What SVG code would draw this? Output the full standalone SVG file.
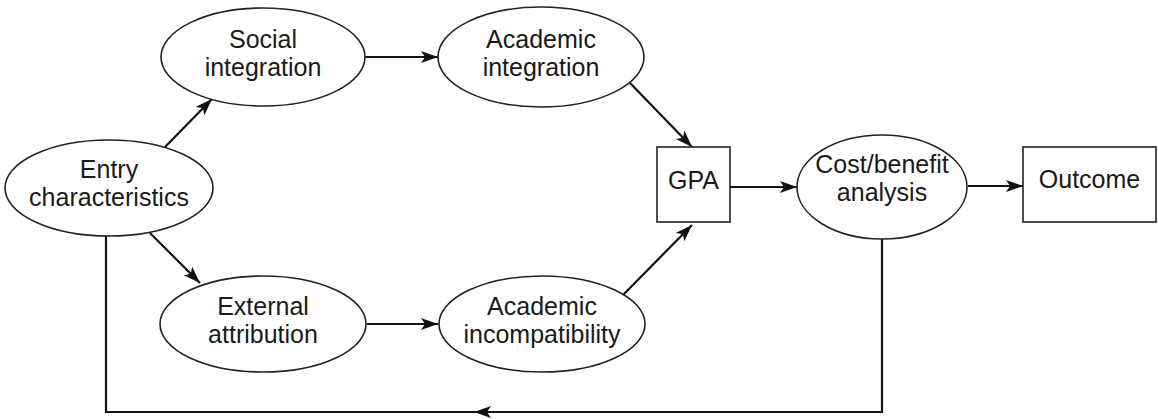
<svg xmlns="http://www.w3.org/2000/svg" width="1158" height="419" viewBox="0 0 1158 419">
  <style>
    .node { fill: #ffffff; stroke: #222222; stroke-width: 1.6; }
    .label { font-family: "Liberation Sans", Arial, Helvetica, sans-serif; font-size: 25px; fill: #1a1a1a; text-anchor: middle; }
    .edge { fill: none; stroke: #111111; stroke-width: 2.2; }
  </style>
  <defs>
    <marker id="arrow" markerUnits="userSpaceOnUse" markerWidth="20" markerHeight="14" refX="17" refY="6" orient="auto">
      <path d="M0,0 L17,6 L0,12 L4,6 Z" fill="#111111"/>
    </marker>
  </defs>
  <rect width="1158" height="419" fill="#ffffff"/>

  <!-- connectors -->
  <g id="connectors">
    <path class="edge" d="M165,147 L212,99" marker-end="url(#arrow)"/>
    <path class="edge" d="M150,233 L200,283" marker-end="url(#arrow)"/>
    <path class="edge" d="M365,57 L438,57" marker-end="url(#arrow)"/>
    <path class="edge" d="M367,324 L438,324" marker-end="url(#arrow)"/>
    <path class="edge" d="M630,83 L692,147" marker-end="url(#arrow)"/>
    <path class="edge" d="M623,295 L692,225" marker-end="url(#arrow)"/>
    <path class="edge" d="M730,187 L797,187" marker-end="url(#arrow)"/>
    <path class="edge" d="M968,186 L1023,186" marker-end="url(#arrow)"/>
    <!-- feedback loop from cost/benefit back to entry characteristics -->
    <path class="edge" d="M882,239 V412 H474" marker-end="url(#arrow)"/>
    <path class="edge" d="M476,412 H106 V236"/>
  </g>

  <g id="entry">
    <ellipse class="node" cx="109" cy="188" rx="104" ry="48"/>
    <text class="label" x="109" y="178">Entry</text>
    <text class="label" x="109" y="206">characteristics</text>
  </g>
  <g id="social">
    <ellipse class="node" cx="263" cy="57" rx="102" ry="49"/>
    <text class="label" x="263" y="48">Social</text>
    <text class="label" x="263" y="76">integration</text>
  </g>
  <g id="academic-integration">
    <ellipse class="node" cx="541" cy="57" rx="103" ry="50"/>
    <text class="label" x="541" y="48">Academic</text>
    <text class="label" x="541" y="76">integration</text>
  </g>
  <g id="external">
    <ellipse class="node" cx="263" cy="324" rx="103" ry="48"/>
    <text class="label" x="263" y="315">External</text>
    <text class="label" x="263" y="343">attribution</text>
  </g>
  <g id="academic-incompatibility">
    <ellipse class="node" cx="542" cy="324" rx="103" ry="48"/>
    <text class="label" x="542" y="315">Academic</text>
    <text class="label" x="542" y="343">incompatibility</text>
  </g>
  <g id="gpa">
    <rect class="node" x="657" y="147" width="73" height="75"/>
    <text class="label" x="693.5" y="189">GPA</text>
  </g>
  <g id="cost-benefit">
    <ellipse class="node" cx="882" cy="187" rx="85" ry="52"/>
    <text class="label" x="882" y="173">Cost/benefit</text>
    <text class="label" x="882" y="201">analysis</text>
  </g>
  <g id="outcome">
    <rect class="node" x="1023" y="147" width="133" height="75"/>
    <text class="label" x="1089.5" y="188">Outcome</text>
  </g>
</svg>
